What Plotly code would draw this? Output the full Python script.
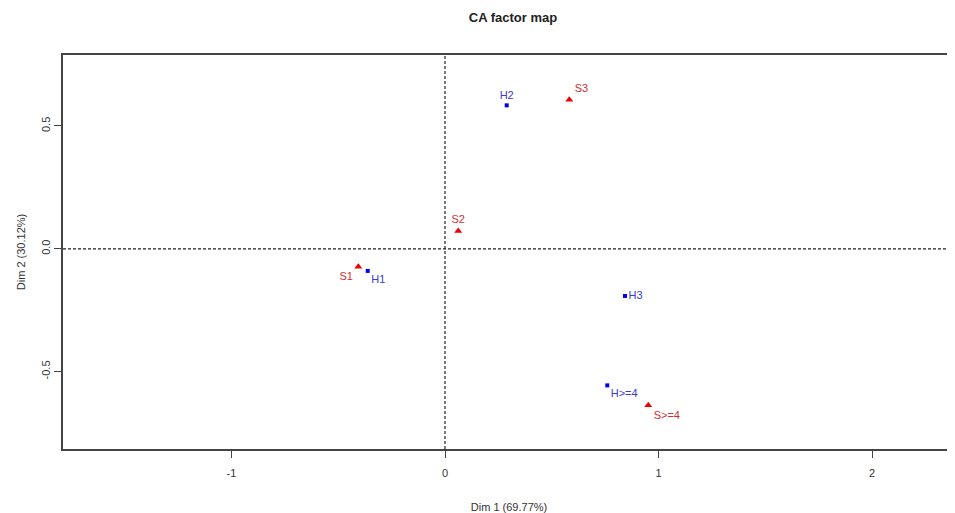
import plotly.graph_objects as go

row_labels = ["H1", "H2", "H3", "H>=4"]
row_dim1 = [-0.362, 0.289, 0.843, 0.760]
row_dim2 = [-0.090, 0.584, -0.192, -0.556]
row_pos = ["bottom right", "top center", "middle right", "bottom right"]

col_labels = ["S1", "S2", "S3", "S>=4"]
col_dim1 = [-0.406, 0.062, 0.582, 0.952]
col_dim2 = [-0.073, 0.073, 0.607, -0.637]
col_pos = ["bottom left", "top center", "top right", "bottom right"]

x_ticks = [-1, 0, 1, 2]
y_ticks = [-0.5, 0.0, 0.5]
y_tick_text = ["-0.5", "0.0", "0.5"]

# page has an ~8px body margin, so the figure is offset by 8px
W, H = 947, 505

fig = go.Figure()
fig.add_trace(go.Scatter(
    x=row_dim1, y=row_dim2, mode="markers+text", text=row_labels,
    textposition=row_pos,
    marker=dict(symbol="square", size=4, color="#0000ee"),
    textfont=dict(family="Liberation Sans, Arial", size=11, color="#3a3ad0"),
    cliponaxis=False, showlegend=False))
fig.add_trace(go.Scatter(
    x=col_dim1, y=col_dim2, mode="markers+text", text=col_labels,
    textposition=col_pos,
    marker=dict(symbol="triangle-up", size=7, color="#ee0000"),
    textfont=dict(family="Liberation Sans, Arial", size=11, color="#d03030"),
    cliponaxis=False, showlegend=False))

fig.add_shape(type="line", xref="x", yref="paper", x0=0, x1=0, y0=0, y1=1,
              line=dict(color="#222", width=1.2, dash="3px,2px"), layer="below")
fig.add_shape(type="line", xref="paper", yref="y", x0=0, x1=1, y0=0, y1=0,
              line=dict(color="#222", width=1.2, dash="3px,2px"), layer="below")

fig.update_layout(
    width=W, height=H,
    margin=dict(l=55, r=0, t=47, b=H - 441),
    paper_bgcolor="white", plot_bgcolor="white",
    font=dict(family="Liberation Sans, Arial", size=11, color="#333"),
    title=dict(text="<b>CA factor map</b>", x=505 / W, xanchor="center",
               y=1 - 9 / H, yanchor="middle",
               font=dict(size=13, color="#222")),
    xaxis=dict(range=[(63 - 445) / 213.5, (955 - 445) / 213.5],
               tickvals=x_ticks, ticktext=[str(v) for v in x_ticks],
               showgrid=False, zeroline=False,
               showline=True, mirror=True, linecolor="#444", linewidth=1.5,
               ticks="outside", ticklen=7, tickcolor="#444",
               ticklabelstandoff=6,
               title=dict(text="Dim 1 (69.77%)", standoff=25,
                          font=dict(size=11, color="#333"))),
    yaxis=dict(range=[-0.815, 0.789],
               tickvals=y_ticks, ticktext=y_tick_text, tickangle=-90,
               showgrid=False, zeroline=False,
               showline=True, mirror=False, linecolor="#444", linewidth=1.5,
               ticks="outside", ticklen=7, tickcolor="#444",
               title=dict(text="Dim 2 (30.12%)", standoff=12,
                          font=dict(size=11, color="#333"))),
)

fig.write_html("out.html")
